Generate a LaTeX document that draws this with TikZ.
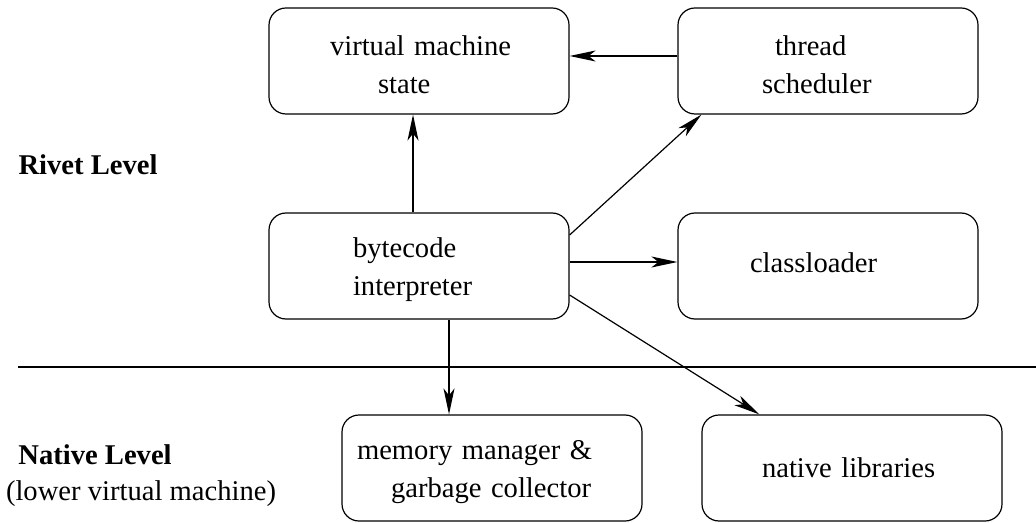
\documentclass[tikz,border=0pt]{standalone}
\usepackage{fontspec}
\setmainfont{Liberation Serif}
\usetikzlibrary{arrows.meta}
\tikzset{
  box/.style={draw, rounded corners=8.5pt, minimum width=150pt, minimum height=53pt,
    text width=150pt, align=left, inner xsep=0pt, inner ysep=0pt},
  arr/.style={-{Stealth[length=13pt,width=5.5pt,inset=3.5pt]}},
  lbl/.style={inner sep=0pt}
}
% indent of a text line inside its box
\newcommand{\ind}[1]{\hspace*{#1pt}}
\newcommand{\fl}[1]{\rule{0pt}{13.5pt}\hspace*{#1pt}}
\begin{document}
\begin{tikzpicture}[x=0.5pt, y=-0.5pt, line width=0.6pt,
    font=\fontsize{14.3}{19}\selectfont]
      \useasboundingbox (0,0) rectangle (1036,523);
      \draw
        (419,61) node[box] (vm){\fl{30.5}virtual machine\\\ind{54.5}state}
        (828,61) node[box] (ts){\fl{48.5}thread\\\ind{42}scheduler}
        (419,266) node[box] (bc){\fl{42}bytecode\\\ind{42}interpreter}
        (828,266) node[box] (cl){\rule[-3pt]{0pt}{0pt}\ind{36}classloader}
        (492,468) node[box] (mm){\fl{7.5}memory manager \&\\\ind{24.5}garbage collector}
        (852,468) node[box] (nl){\ind{30}native libraries};
      \node[lbl, font=\fontsize{14.3}{19}\selectfont\bfseries] (rivet) at (88,165) {Rivet Level};
      \node[lbl, font=\fontsize{14.3}{19}\selectfont\bfseries] (native) at (95,455) {Native Level};
      \node[lbl] (lower) at (141,494) {(lower virtual machine)};
      \draw (18,367) -- (1036,367);
      \begin{scope}[arr]
        \draw ([yshift=2.5pt]ts.west) -- ([yshift=2.5pt]vm.east);
        \draw ([xshift=-3pt]bc.north) -- ([xshift=-3pt]vm.south);
        \draw ([yshift=15.5pt]bc.east) -- ([xshift=12pt]ts.south west);
        \draw ([yshift=2pt]bc.east) -- ([yshift=2pt]cl.west);
        \draw ([xshift=15pt]bc.south) -- ([xshift=15pt]bc.south |- mm.north);
        \draw ([yshift=-14.5pt]bc.east) -- ([xshift=29pt]nl.north west);
      \end{scope}
    \end{tikzpicture}
\end{document}
